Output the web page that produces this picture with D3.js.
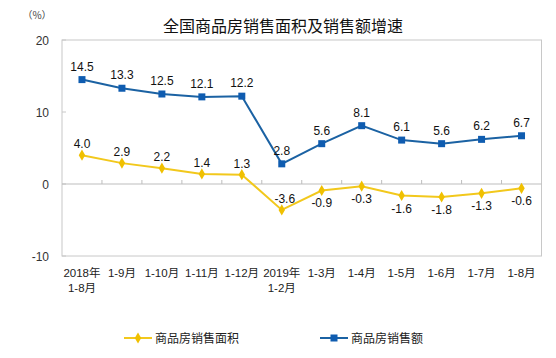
<!DOCTYPE html>
<html><head><meta charset="utf-8">
<script src="https://cdn.jsdelivr.net/npm/d3@7"></script>
<style>body{margin:0;background:#fff}svg{display:block}</style>
</head><body>
<script>
const categories = ["2018年|1-8月","1-9月","1-10月","1-11月","1-12月","2019年|1-2月","1-3月","1-4月","1-5月","1-6月","1-7月","1-8月"];
const areaGrowth = [4.0, 2.9, 2.2, 1.4, 1.3, -3.6, -0.9, -0.3, -1.6, -1.8, -1.3, -0.6];
const salesGrowth = [14.5, 13.3, 12.5, 12.1, 12.2, 2.8, 5.6, 8.1, 6.1, 5.6, 6.2, 6.7];
const yTicks = [-10, 0, 10, 20];
const seriesNames = ["商品房销售面积", "商品房销售额"];
const title = "全国商品房销售面积及销售额增速";

const W = 556, H = 358;
const m = {left: 62, right: 541.5, top: 40, bottom: 256};
const yellow = "#F2C81C", yellowM = "#F0C000";
const blue = "#1B62A3", blueM = "#0F5CB0";
const font = "'Liberation Sans', Arial, 'Noto Sans CJK SC', sans-serif";

const svg = d3.select("body").append("svg").attr("width", W).attr("height", H)
  .style("font-family", font);

const x = d3.scaleBand().domain(d3.range(categories.length)).range([m.left, m.right]);
const cx = i => x(i) + x.bandwidth() / 2;
const y = d3.scaleLinear().domain([-10, 20]).range([m.bottom, m.top]);

// title
svg.append("text").attr("x", 283).attr("y", 32).attr("text-anchor", "middle")
  .attr("font-size", 16).attr("fill", "#111").attr("font-family", "'Noto Sans CJK SC', sans-serif")
  .text(title);
svg.append("text").attr("x", 37).attr("y", 19).attr("text-anchor", "middle")
  .attr("font-size", 10).attr("fill", "#444").attr("font-family", "'Noto Sans CJK SC', sans-serif")
  .text("（%）");

// plot frame
svg.append("rect").attr("x", m.left).attr("y", m.top).attr("width", m.right - m.left)
  .attr("height", m.bottom - m.top).attr("fill", "none").attr("stroke", "#c8c8c8").attr("stroke-width", 1);

// y axis labels and ticks
yTicks.forEach(t => {
  svg.append("text").attr("x", 49).attr("y", y(t) + 4.5).attr("text-anchor", "end")
    .attr("font-size", 12).attr("fill", "#333").text(t);
  svg.append("line").attr("x1", m.left).attr("x2", m.left + 4).attr("y1", y(t)).attr("y2", y(t))
    .attr("stroke", "#c8c8c8");
});

// zero line and category ticks
svg.append("line").attr("x1", m.left).attr("x2", m.right).attr("y1", y(0)).attr("y2", y(0))
  .attr("stroke", "#bdbdbd").attr("stroke-width", 1);
d3.range(1, categories.length).forEach(i => {
  svg.append("line").attr("x1", x(i)).attr("x2", x(i)).attr("y1", y(0)).attr("y2", y(0) - 4)
    .attr("stroke", "#bdbdbd");
});

// x labels
categories.forEach((c, i) => {
  const parts = c.split("|");
  parts.forEach((p, k) => {
    svg.append("text").attr("x", cx(i)).attr("y", 277 + k * 15).attr("text-anchor", "middle")
      .attr("font-size", 11.5).attr("fill", "#222").text(p);
  });
});

const line = d3.line().x((d, i) => cx(i)).y(d => y(d));

// sales (blue)
svg.append("path").datum(salesGrowth).attr("d", line).attr("fill", "none")
  .attr("stroke", blue).attr("stroke-width", 2);
svg.selectAll(".bm").data(salesGrowth).enter().append("rect")
  .attr("x", (d, i) => cx(i) - 3.5).attr("y", d => y(d) - 3.5).attr("width", 7).attr("height", 7)
  .attr("fill", blueM);
svg.selectAll(".bl").data(salesGrowth).enter().append("text")
  .attr("x", (d, i) => cx(i)).attr("y", d => y(d) - 9).attr("text-anchor", "middle")
  .attr("font-size", 12).attr("fill", "#111").text(d => d.toFixed(1));

// area (yellow)
svg.append("path").datum(areaGrowth).attr("d", line).attr("fill", "none")
  .attr("stroke", yellow).attr("stroke-width", 2);
const diamond = d3.symbol().type(d3.symbolDiamond).size(36);
svg.selectAll(".ym").data(areaGrowth).enter().append("path")
  .attr("d", diamond).attr("transform", (d, i) => `translate(${cx(i)},${y(d)})`)
  .attr("fill", yellowM);
svg.selectAll(".yl").data(areaGrowth).enter().append("text")
  .attr("x", (d, i) => cx(i) + (i === 5 ? 3 : 0))
  .attr("y", (d, i) => (d >= 0 || i === 5) ? y(d) - 7 : y(d) + 17)
  .attr("text-anchor", "middle").attr("font-size", 12).attr("fill", "#111").text(d => d.toFixed(1));

// legend
const legend = [
  {name: seriesNames[0], x: 124, color: yellow, mc: yellowM, shape: "d"},
  {name: seriesNames[1], x: 320, color: blue, mc: blueM, shape: "s"}
];
legend.forEach(l => {
  const ly = 338;
  svg.append("line").attr("x1", l.x).attr("x2", l.x + 28).attr("y1", ly).attr("y2", ly)
    .attr("stroke", l.color).attr("stroke-width", 2);
  if (l.shape === "d") {
    svg.append("path").attr("d", diamond).attr("transform", `translate(${l.x + 14},${ly})`).attr("fill", l.mc);
  } else {
    svg.append("rect").attr("x", l.x + 10.5).attr("y", ly - 3.5).attr("width", 7).attr("height", 7).attr("fill", l.mc);
  }
  svg.append("text").attr("x", l.x + 31).attr("y", ly + 4.5).attr("font-size", 12)
    .attr("fill", "#222").attr("font-family", "'Noto Sans CJK SC', sans-serif").text(l.name);
});
</script>
</body></html>
